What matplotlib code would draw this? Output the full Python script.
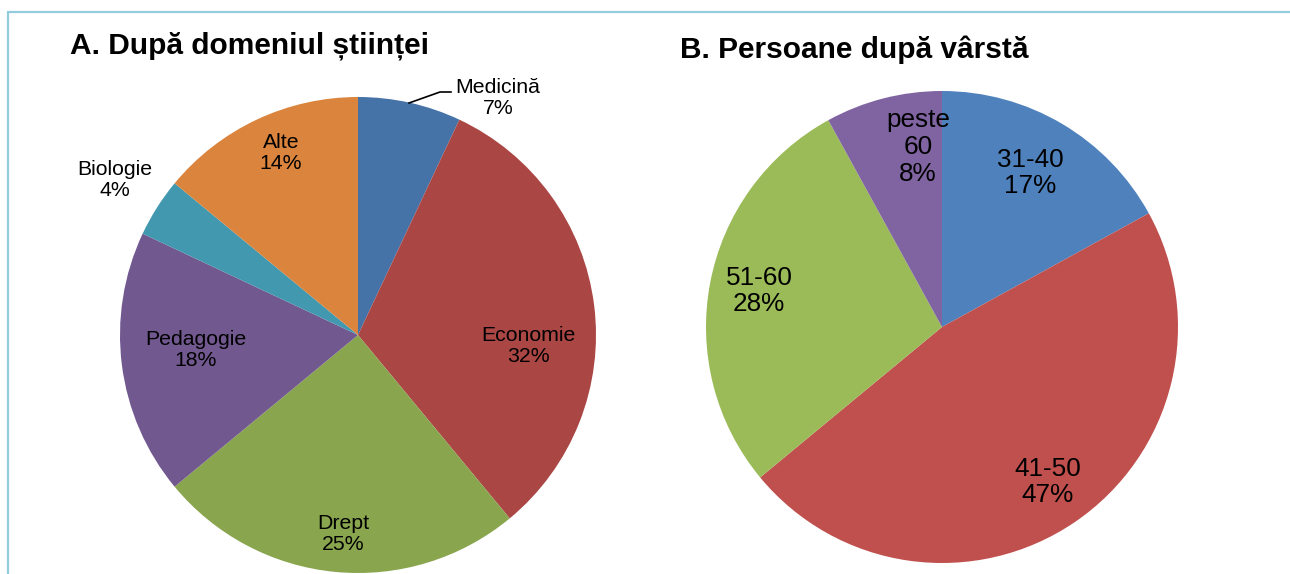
import matplotlib.pyplot as plt

plt.rcParams['font.family'] = ['Liberation Sans', 'DejaVu Sans']

# A. researchers by field of science (%)
domenii = ["Medicină", "Economie", "Drept", "Pedagogie", "Biologie", "Alte"]
domenii_val = [7, 32, 25, 18, 4, 14]
domenii_col = ["#4572A7", "#AA4643", "#89A54E", "#71588F", "#4198AF", "#DB843D"]

# B. persons by age group (%)
varste = ["31-40", "41-50", "51-60", "peste\n60"]
varste_val = [17, 47, 28, 8]
varste_col = ["#4F81BD", "#C0504D", "#9BBB59", "#8064A2"]

W, H = 1290, 574
fig = plt.figure(figsize=(W / 100, H / 100), dpi=100)
ax = fig.add_axes([0, 0, 1, 1])

# frame lines on the left and top
ax.plot([8, 8, W], [0, H - 12, H - 12], color="#93CDDD", lw=1.6,
        solid_joinstyle="miter")

ax.pie(domenii_val, colors=domenii_col, startangle=90, counterclock=False,
       center=(358, H - 335), radius=238, frame=True,
       wedgeprops=dict(linewidth=0))
ax.pie(varste_val, colors=varste_col, startangle=90, counterclock=False,
       center=(942, H - 327), radius=236, frame=True,
       wedgeprops=dict(linewidth=0))
ax.set_xlim(0, W)
ax.set_ylim(0, H)
ax.set_aspect("auto")
ax.axis("off")

# label positions (pixels from top-left)
pos_a = [(498, 98), (528, 346), (343, 534), (196, 350), (115, 180), (281, 153)]
for name, v, (x, y) in zip(domenii, domenii_val, pos_a):
    ax.text(x, H - y, f"{name}\n{v}%", ha="center", va="center",
            fontsize=15.3, linespacing=1.12)

# leader line for the small Medicină slice
ax.plot([409, 440, 451], [H - 103, H - 92, H - 92], color="black", lw=1.2)

pos_b = [(1030, 173), (1048, 482), (759, 291), (918, 147)]
for name, v, (x, y) in zip(varste, varste_val, pos_b):
    ax.text(x, H - y, f"{name}\n{v}%", ha="center", va="center",
            fontsize=18.8, linespacing=1.15)

ax.text(70, H - 53, "A. După domeniul științei", fontsize=21.5,
        fontweight="bold", ha="left", va="baseline")
ax.text(680, H - 58, "B. Persoane după vârstă", fontsize=21.5,
        fontweight="bold", ha="left", va="baseline")

fig.savefig("out.png", dpi=100)
